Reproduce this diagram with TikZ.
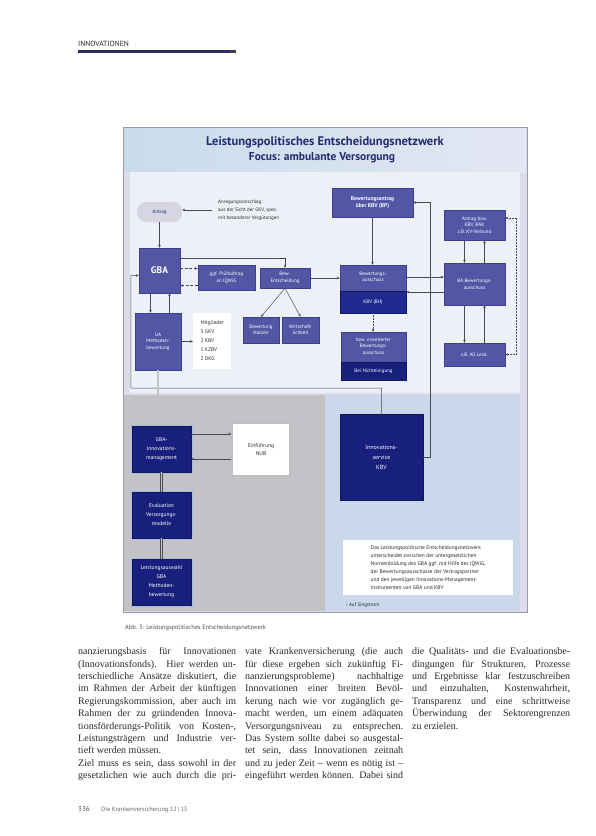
\documentclass[tikz,border=0pt]{standalone}
\usepackage{fontspec}
\setmainfont{Liberation Serif}
\newfontfamily\dia{PT Sans}
\usetikzlibrary{arrows.meta,calc}
\definecolor{boxmid}{HTML}{5157A5}
\definecolor{boxedge}{HTML}{3B4090}
\definecolor{navy}{HTML}{17207C}
\definecolor{navyedge}{HTML}{0F165E}
\definecolor{bandc}{HTML}{1E2A8E}
\definecolor{glow}{HTML}{A9BDE0}
\definecolor{lineg}{HTML}{4A4A55}
\definecolor{panel}{HTML}{EEF0F7}
\definecolor{lowl}{HTML}{C2C2C7}
\definecolor{lowr}{HTML}{CBD7EA}
\definecolor{framefill}{HTML}{DCDCEA}
\definecolor{frameedge}{HTML}{9A9AAA}
\definecolor{tl}{HTML}{C8DCEC}
\definecolor{tr}{HTML}{E4E7F3}
\definecolor{titlec}{HTML}{232C6E}
\definecolor{bodyc}{HTML}{2A2A2A}
\definecolor{hdrbar}{HTML}{2D2A6A}
\definecolor{blobc}{HTML}{D5D5E4}
\newcommand\jline[1]{\makebox[158pt][s]{#1}}
\begin{document}
\begin{tikzpicture}[x=1pt,y=-1pt,
  every node/.style={inner sep=1pt},
  sz/.style 2 args={minimum width=#1pt, minimum height=#2pt},
  ubox/.style={draw=boxedge, fill=boxmid, text=white, align=center,
    font=\dia\fontsize{5}{6.5}\selectfont, line width=0.4pt},
  band/.style={draw=navyedge, fill=bandc, text=white, align=center,
    font=\dia\fontsize{5}{6}\selectfont, line width=0.4pt},
  nbox/.style={draw=navyedge, fill=navy, text=white, align=center,
    font=\dia\fontsize{5.5}{9}\selectfont, line width=0.4pt,
    preaction={draw=glow, line width=3pt}},
  note/.style={text=bodyc, align=left, font=\dia\fontsize{5.5}{8}\selectfont},
  conn/.style={draw=lineg, line width=0.5pt},
  arr/.style={conn, -{Stealth[length=3pt,width=2.6pt]}},
  dline/.style={draw=lineg, line width=0.4pt, double=lowl, double distance=1.8pt},
  dotarr/.style={conn, densely dotted, {Stealth[length=3pt,width=2.6pt]}-{Stealth[length=3pt,width=2.6pt]}},
  body/.style={anchor=north west, align=left, inner sep=0pt, text=bodyc,
    font=\fontsize{10}{12.4}\selectfont}
]
\useasboundingbox (0,0) rectangle (595,836);
\fill[white] (0,0) rectangle (595,836);

% header
\node[anchor=base west, font=\dia\fontsize{7.5}{9}\selectfont, text=black!85, inner sep=0pt] (hdr) at (78,46) {INNOVATIONEN};
\fill[hdrbar] (78,50) rectangle (230,53);
\fill[black!75] (230,50) rectangle (236,53);

% diagram frame and panels
\draw[frameedge, fill=framefill, line width=0.6pt] (123,127) rectangle (527,612);
\shade[left color=tl, right color=tr] (124,128) rectangle (526,172);
\fill[panel] (130,172) rectangle (520,393);
\fill[lowl] (124,395) rectangle (325,611);
\fill[lowr] (325,395) rectangle (520,611);

% title
\node[font=\dia\bfseries\fontsize{12.5}{14}\selectfont, text=titlec] (t1) at (325,142) {Leistungspolitisches Entscheidungsnetzwerk};
\node[font=\dia\bfseries\fontsize{11.5}{13}\selectfont, text=titlec] (t2) at (322,158) {Focus: ambulante Versorgung};

% upper left part
\node[fill=blobc, rounded corners=9pt, sz={45}{20}, text=titlec, font=\dia\fontsize{5}{6}\selectfont] (antrag) at (159.5,212) {Antrag};
\node[note, anchor=west, inner xsep=6pt, font=\dia\fontsize{5}{8}\selectfont] (anr) at (212,210) {Anregungsvorschlag:\\aus der Sicht der GKV, spez.\\mit besonderer Vergütungen};
\node[ubox, sz={41}{45}, font=\dia\bfseries\fontsize{9.5}{11}\selectfont] (gba) at (159.5,270.5) {GBA};
\node[ubox, sz={57}{25}] (prz) at (226.5,277.5) {ggf. Prüfauftrag\\an IQWiG};
\node[ubox, sz={50}{20}] (bew) at (285,278) {Bew.-\\Entscheidung};
\node[ubox, sz={36}{26}] (nutzen) at (261,330) {Bewertung\\Nutzen};
\node[ubox, sz={37}{26}] (wirt) at (300.5,330) {Wirtschaft-\\lichkeit};
\node[ubox, sz={46}{57}] (ua) at (158,341.5) {UA\\Methoden-\\bewertung};
\node[note, fill=white, anchor=west, sz={38}{56}, inner xsep=3pt, font=\dia\fontsize{5.3}{9}\selectfont] (mit) at (193,341) {Mitglieder\\5 GKV\\2 KBV\\1 KZBV\\2 DKG};

% upper middle
\node[ubox, sz={81}{29}, font=\dia\bfseries\fontsize{5.5}{7}\selectfont] (bant) at (372.5,202.5) {Bewertungsantrag\\über KBV (BP)};
\node[ubox, sz={66}{48}] (ba1) at (373,289) {};
\node[band, sz={66}{22}, anchor=south] (ba1band) at (ba1.south) {KBV (BH)};
\node[text=white, align=center, font=\dia\fontsize{5}{6.5}\selectfont] (ba1txt) at (373,277) {Bewertungs-\\ausschuss};
\node[ubox, sz={65}{48}] (erw) at (373.5,356) {};
\node[band, sz={65}{18}, anchor=south, fill=navy] (erwband) at (erw.south) {Bei Nichteinigung};
\node[text=white, align=center, font=\dia\fontsize{5}{6.5}\selectfont] (erwtxt) at (373.5,346) {bzw. erweiterter\\Bewertungs-\\ausschuss};

% upper right
\node[ubox, sz={61}{30}] (rb1) at (474.5,225) {Antrag bzw.\\KBV, BÄK\\z.B. KV-Verbund};
\node[ubox, sz={61}{42}] (rb2) at (474.5,284) {BA Bewertungs-\\ausschuss};
\node[ubox, sz={61}{23}] (rb3) at (474.5,354.5) {z.B. AG Leist.};

% lower part
\node[nbox, sz={59}{46}] (gbaim) at (161.5,449) {GBA-\\Innovations-\\management};
\node[draw=black!25, line width=1.2pt, fill=white, sz={58}{53}, align=center, text=bodyc, font=\dia\fontsize{5.5}{8}\selectfont] (einf) at (261,449.5) {Einführung\\NUB};
\node[nbox, sz={59}{46}] (eval) at (161.5,515) {Evaluation\\Versorgungs-\\modelle};
\node[nbox, sz={59}{46}] (leist) at (161.5,582) {Leistungsauswahl\\GBA\\Methoden-\\bewertung};
\node[draw=navyedge, fill=navy, text=white, align=center, sz={83}{86}, font=\dia\fontsize{6}{10}\selectfont, line width=0.4pt] (inn) at (381.5,457) {Innovations-\\service\\KBV};
\node[fill=white, sz={170}{55}, anchor=north west, align=left, text=bodyc, inner xsep=3pt, font=\dia\fontsize{5.4}{8}\selectfont] (tbox) at (343,540) {Das Leistungspolitische Entscheidungsnetzwerk\\unterscheidet zwischen der untergesetzlichen\\Normenbildung des GBA ggf. mit Hilfe des IQWiG,\\der Bewertungsausschüsse der Vertragspartner\\und den jeweiligen Innovations-Management-\\Instrumenten von GBA und KBV};
\node[anchor=base west, text=bodyc, font=\dia\fontsize{5}{6}\selectfont] (src) at (345,606) {› Auf Singstrom};

% connectors upper left
\draw[arr] (anr.west) -- (anr.west -| antrag.east);
\draw[arr] (antrag.south) -- (gba.north);
\coordinate (g0) at ($(gba.north east)+(0,10)$);
\draw[arr] (g0) -| (bew.north);
\coordinate (p1) at ($(prz.west)+(0,-9)$);
\coordinate (p2) at ($(prz.west)+(0,8)$);
\draw[arr, dash pattern=on 3pt off 1.5pt] (p1 -| gba.east) -- (p1);
\draw[arr, dash pattern=on 3pt off 1.5pt] (p2) -- (p2 -| gba.east);
\draw[arr] (bew.east) -- (bew.east -| ba1.west);
\draw[arr] (bew.south) -- (nutzen.north);
\draw[arr] (bew.south) -- (wirt.north);
\coordinate (g1) at ($(gba.south)+(-9,0)$);
\coordinate (g2) at ($(gba.south)+(10,0)$);
\draw[arr] (g1) -- (g1 |- ua.north);
\draw[arr] (g2 |- ua.north) -- (g2);
\draw[arr] (ua.east) -- (ua.east -| mit.west);

% connectors middle / right
\draw[arr] (bant.south) -- (bant.south |- ba1.north);
\draw[arr, densely dotted] (ba1.south) -- (ba1.south |- erw.north);
\coordinate (q1) at ($(rb2.west)+(0,-7)$);
\coordinate (q2) at ($(rb2.west)+(0,8)$);
\draw[arr] (q1 -| ba1.east) -- (q1);
\draw[arr] (q2) -- (q2 -| ba1.east);
\coordinate (r1) at ($(rb1.south)+(-10,0)$);
\coordinate (r2) at ($(rb1.south)+(10,0)$);
\draw[arr] (r1) -- (r1 |- rb2.north);
\draw[arr] (r2 |- rb2.north) -- (r2);
\coordinate (s1) at ($(rb2.south)+(-10,0)$);
\coordinate (s2) at ($(rb2.south)+(10,0)$);
\draw[arr] (s1) -- (s1 |- rb3.north);
\draw[arr] (s2 |- rb3.north) -- (s2);
\coordinate (d1) at ($(rb1.east)+(0,-7)$);
\draw[dotarr] (d1) -- ++(11,0) |- (rb3.east);

% connectors from lower part
\draw[arr] (inn.east) -- ++(7,0) |- (bant.east);
\coordinate (k1) at ($(gba.west)+(-8,5)$);
\coordinate (k2) at (131,388);
\draw[arr] (inn.north) |- (k2) -- (k1) -- (k1 -| gba.west);
\draw[dline] (ua.south) -- (ua.south |- gbaim.north);
\draw[dline] (gbaim.south) -- (eval.north);
\draw[dline] (eval.south) -- (leist.north);
\coordinate (e1) at ($(gbaim.east)+(0,-15)$);
\coordinate (e2) at ($(gbaim.east)+(0,10)$);
\draw[arr] (e1) -- (e1 -| einf.west);
\draw[arr] (e2 -| einf.west) -- (e2);

% caption
\node[anchor=base west, font=\dia\fontsize{6.3}{8}\selectfont, text=black!70, inner sep=0pt] (cap) at (125,629) {Abb. 3: Leistungspolitisches Entscheidungsnetzwerk};

% body text
\node[body] (col1) at (78,647.5) {%
\jline{nanzierungsbasis für Innovationen}\\
\jline{(Innovationsfonds). Hier werden un-}\\
\jline{terschiedliche Ansätze diskutiert, die}\\
\jline{im Rahmen der Arbeit der künftigen}\\
\jline{Regierungskommission, aber auch im}\\
\jline{Rahmen der zu gründenden Innova-}\\
\jline{tionsförderungs-Politik von Kosten-,}\\
\jline{Leistungsträgern und Industrie ver-}\\
tieft werden müssen.\\
\jline{Ziel muss es sein, dass sowohl in der}\\
\jline{gesetzlichen wie auch durch die pri-}};
\node[body] (col2) at (245,647.5) {%
\jline{vate Krankenversicherung (die auch}\\
\jline{für diese ergeben sich zukünftig Fi-}\\
\jline{nanzierungsprobleme) nachhaltige}\\
\jline{Innovationen einer breiten Bevöl-}\\
\jline{kerung nach wie vor zugänglich ge-}\\
\jline{macht werden, um einem adäquaten}\\
\jline{Versorgungsniveau zu entsprechen.}\\
\jline{Das System sollte dabei so ausgestal-}\\
\jline{tet sein, dass Innovationen zeitnah}\\
\jline{und zu jeder Zeit – wenn es nötig ist –}\\
\jline{eingeführt werden können. Dabei sind}};
\node[body] (col3) at (412,647.5) {%
\jline{die Qualitäts- und die Evaluationsbe-}\\
\jline{dingungen für Strukturen, Prozesse}\\
\jline{und Ergebnisse klar festzuschreiben}\\
\jline{und einzuhalten, Kostenwahrheit,}\\
\jline{Transparenz und eine schrittweise}\\
\jline{Überwindung der Sektorengrenzen}\\
zu erzielen.};

% footer
\node[anchor=base west, font=\dia\fontsize{7}{8}\selectfont, text=black!70, inner sep=0pt] (pg) at (78,811) {336};
\node[anchor=base west, font=\dia\fontsize{6.3}{8}\selectfont, text=black!60, inner sep=0pt] (jn) at (101,811) {Die Krankenversicherung 12\,|\,13};
\end{tikzpicture}
\end{document}
